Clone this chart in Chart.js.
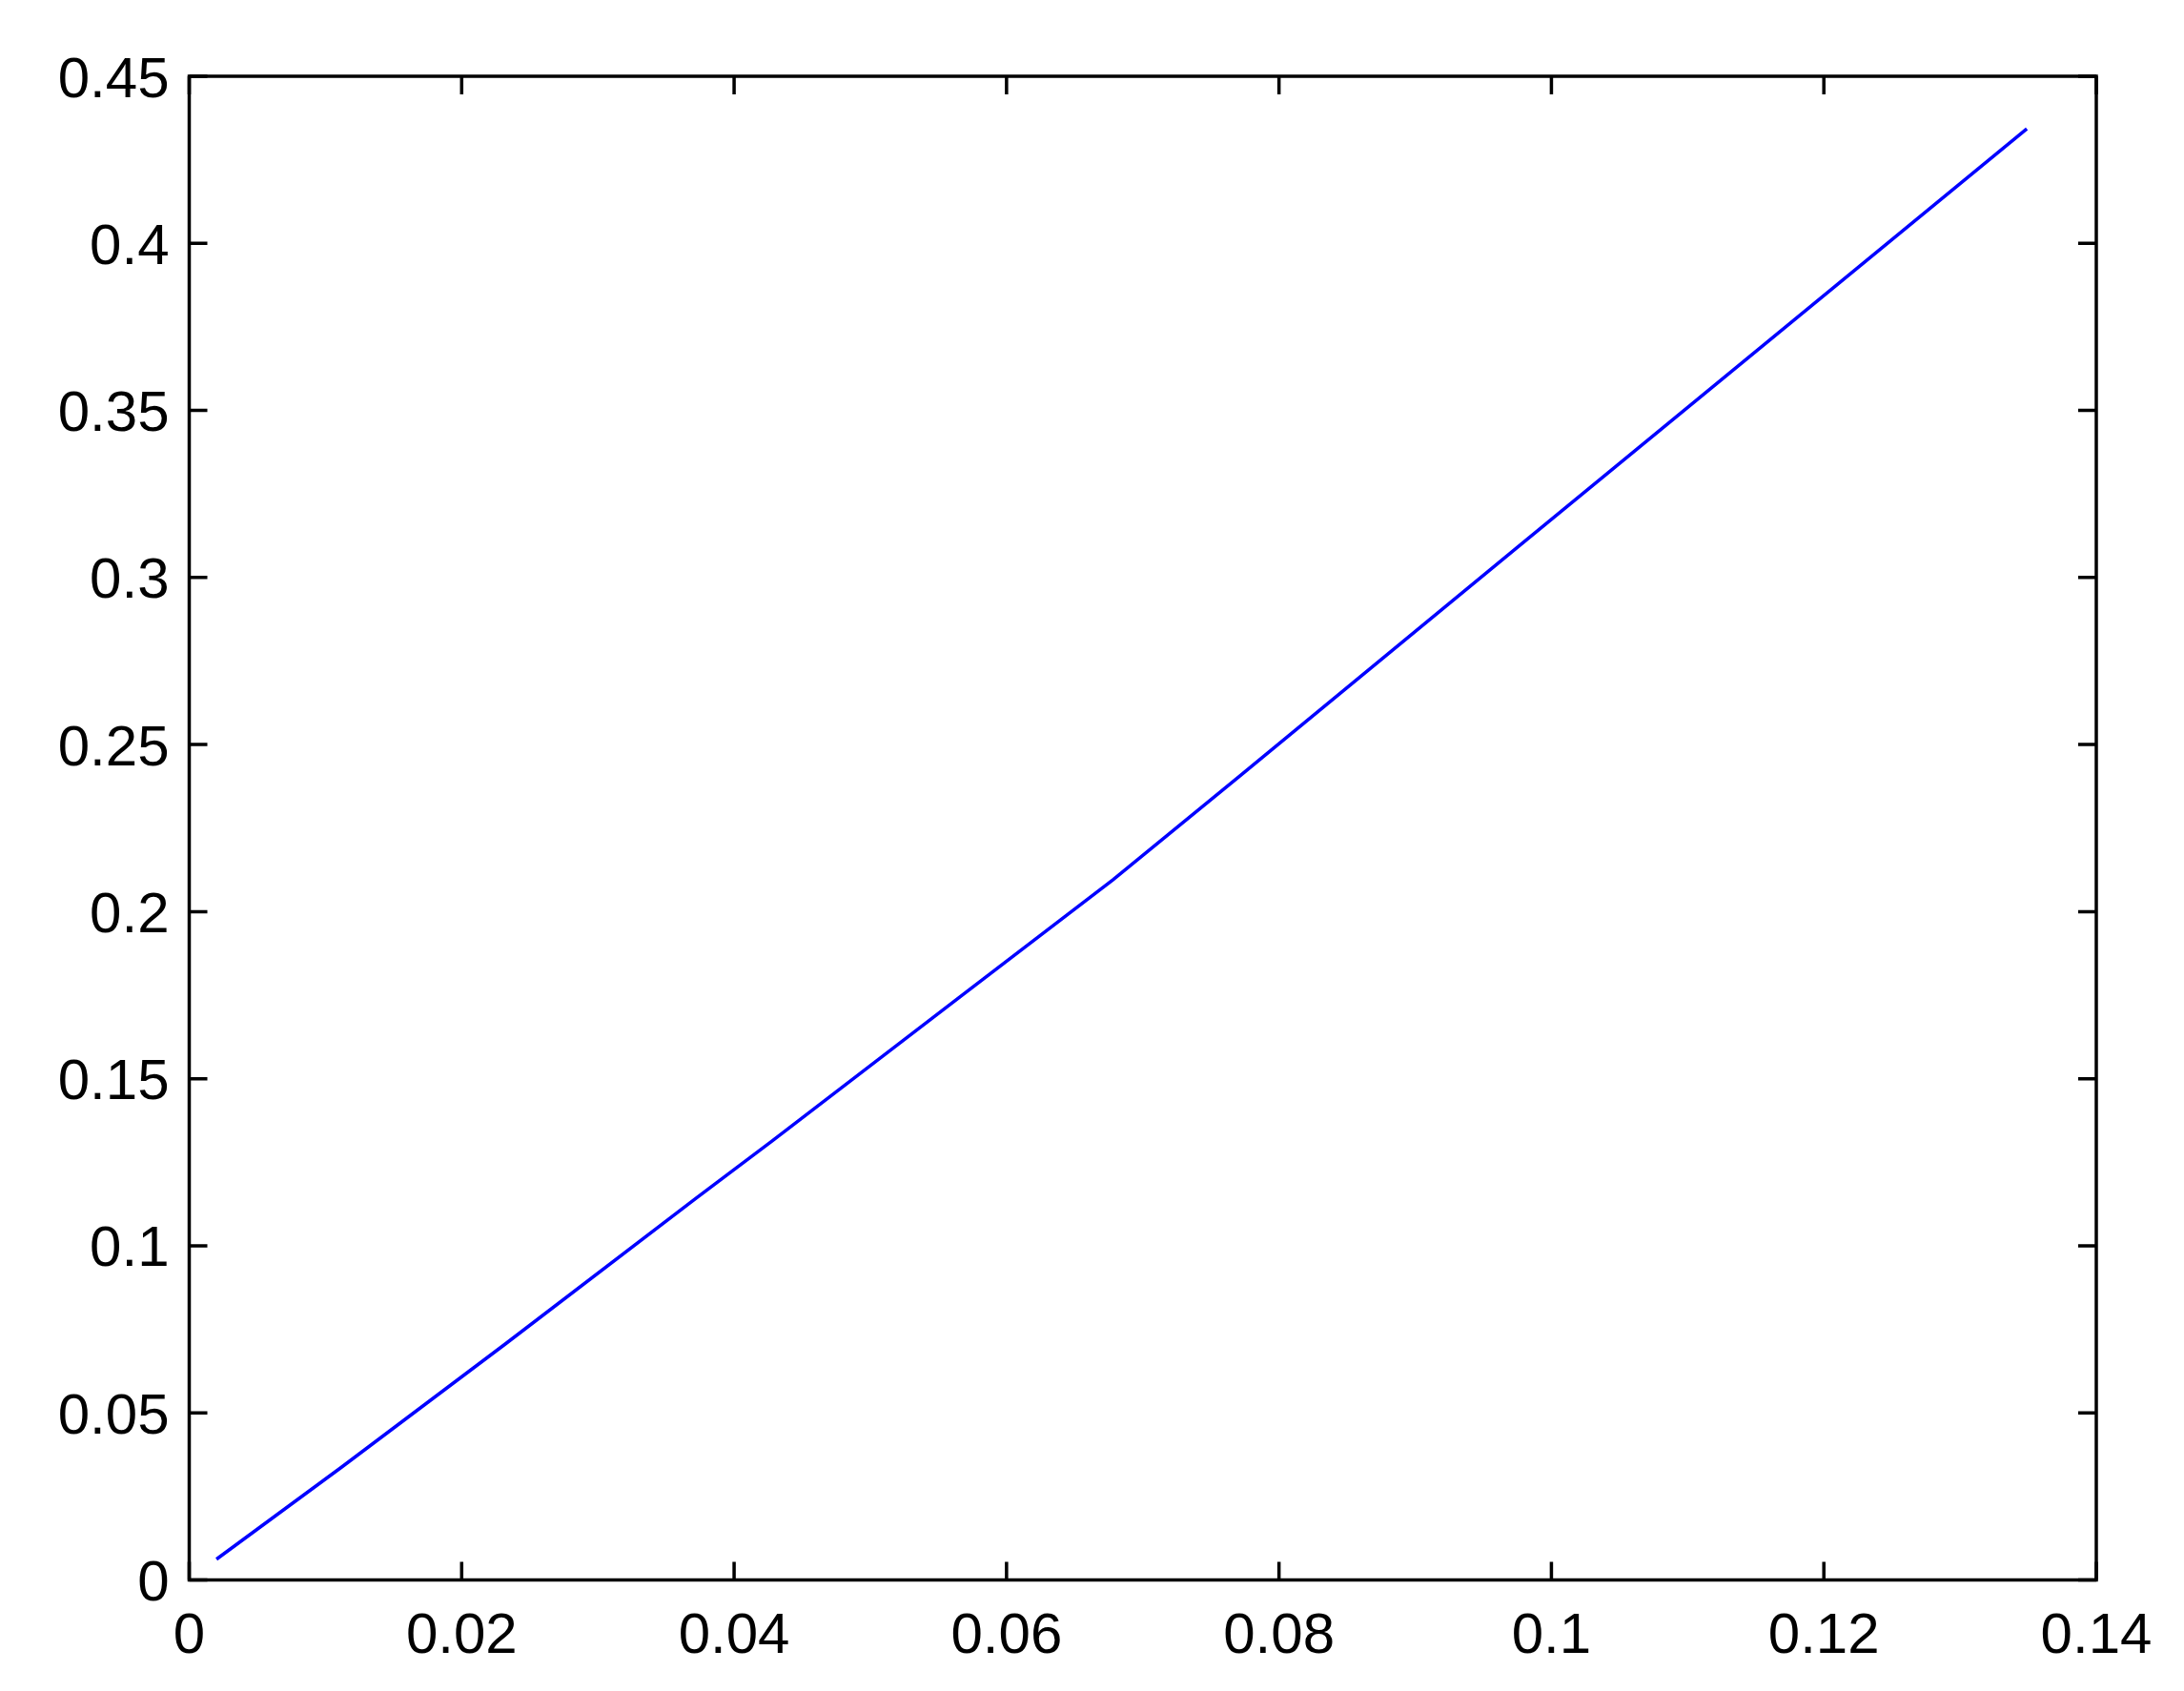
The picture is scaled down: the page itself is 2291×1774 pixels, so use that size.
<!DOCTYPE html>
<html>
<head>
<meta charset="utf-8">
<script src="https://cdn.jsdelivr.net/npm/chart.js@4/dist/chart.umd.min.js"></script>
<style>
  html, body { margin: 0; padding: 0; background: #fff; }
  canvas { display: block; }
</style>
</head>
<body>
<canvas id="grafico" width="2291" height="1774"></canvas>
<script>
// valores
const xValores = [0.0020, 0.0112, 0.0232, 0.0372, 0.0428, 0.0571, 0.0678, 0.0771, 0.0974, 0.1349];
const yValores = [0.0062, 0.0338, 0.0706, 0.1142, 0.1314, 0.1761, 0.2095, 0.2405, 0.3087, 0.4343];
const xTicks = [0, 0.02, 0.04, 0.06, 0.08, 0.1, 0.12, 0.14];
const yTicks = [0, 0.05, 0.1, 0.15, 0.2, 0.25, 0.3, 0.35, 0.4, 0.45];

const fuente = { family: "'Liberation Sans', Arial, sans-serif", size: 60 };
const etiqueta = v => String(+Number(v).toFixed(4));

// caja completa + marcas hacia dentro, como en matlab
const cajaYMarcas = {
  id: "cajaYMarcas",
  afterDraw(chart) {
    const { ctx, chartArea: a, scales } = chart;
    const largo = 19;
    ctx.save();
    ctx.strokeStyle = "#000";
    ctx.lineWidth = 3.5;
    ctx.strokeRect(a.left, a.top, a.right - a.left, a.bottom - a.top);
    ctx.beginPath();
    xTicks.forEach(v => {
      const px = scales.x.getPixelForValue(v);
      ctx.moveTo(px, a.bottom); ctx.lineTo(px, a.bottom - largo);
      ctx.moveTo(px, a.top); ctx.lineTo(px, a.top + largo);
    });
    yTicks.forEach(v => {
      const py = scales.y.getPixelForValue(v);
      ctx.moveTo(a.left, py); ctx.lineTo(a.left + largo, py);
      ctx.moveTo(a.right, py); ctx.lineTo(a.right - largo, py);
    });
    ctx.stroke();
    ctx.restore();
  }
};

new Chart(document.getElementById("grafico"), {
  type: "line",
  data: {
    datasets: [{
      data: xValores.map((x, i) => ({ x, y: yValores[i] })),
      borderColor: "#0000ff",
      borderWidth: 3.5,
      pointRadius: 0,
      tension: 0,
      fill: false
    }]
  },
  options: {
    responsive: false,
    animation: false,
    layout: { padding: { left: 0, right: 92, top: 80, bottom: 0 } },
    plugins: { legend: { display: false }, tooltip: { enabled: false } },
    scales: {
      x: {
        type: "linear",
        min: 0, max: 0.14,
        afterFit: s => { s.height = 116.5; },
        afterBuildTicks: s => { s.ticks = xTicks.map(value => ({ value })); },
        grid: { display: false },
        border: { display: false },
        ticks: { color: "#000", font: fuente, padding: 16, maxRotation: 0, callback: etiqueta }
      },
      y: {
        type: "linear",
        min: 0, max: 0.45,
        afterFit: s => { s.width = 198.5; },
        afterBuildTicks: s => { s.ticks = yTicks.map(value => ({ value })); },
        grid: { display: false },
        border: { display: false },
        ticks: { color: "#000", font: fuente, padding: 13, labelOffset: 5, callback: etiqueta }
      }
    }
  },
  plugins: [cajaYMarcas]
});
</script>
</body>
</html>
